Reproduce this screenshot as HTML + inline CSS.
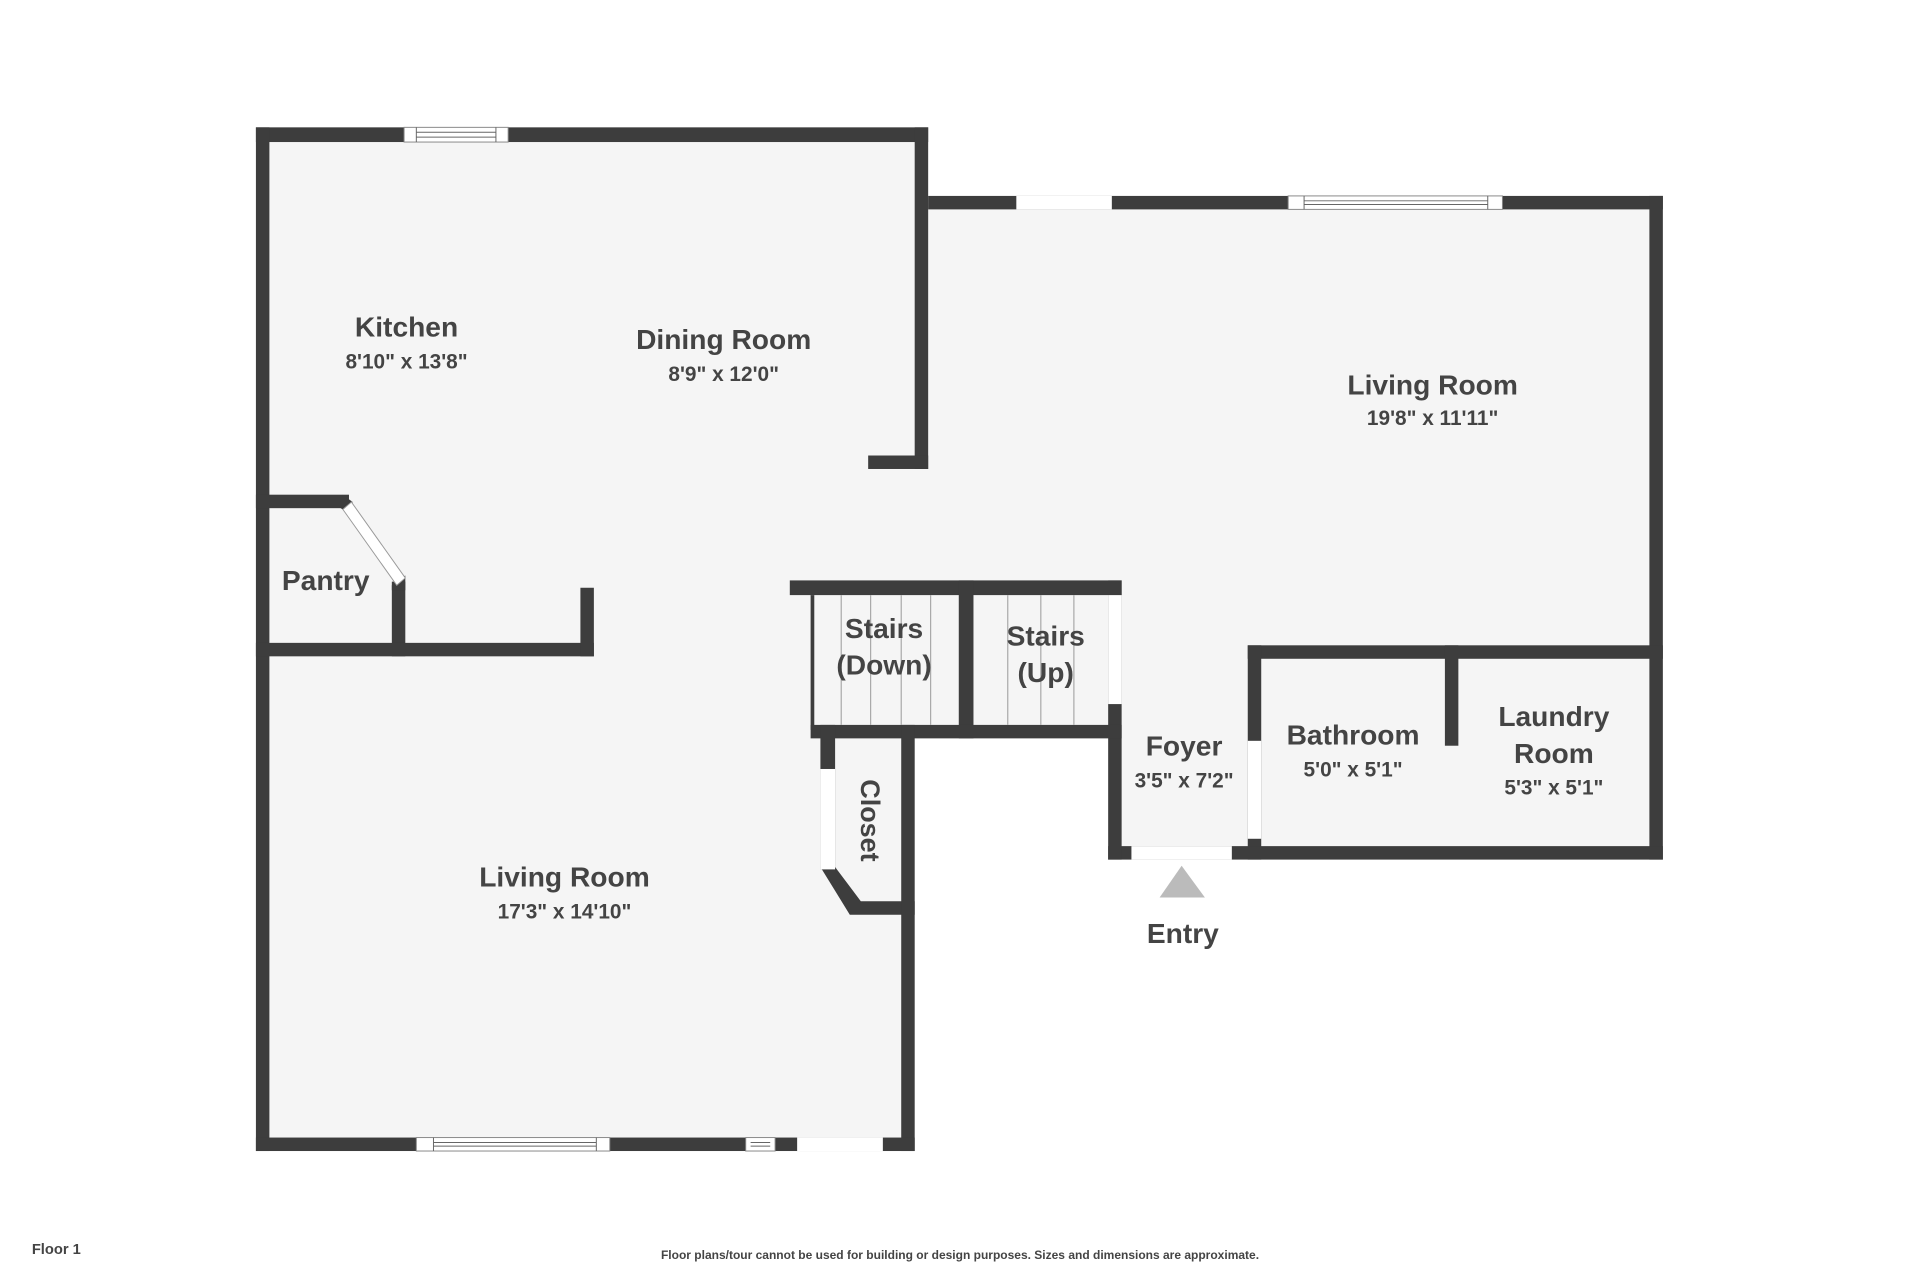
<!DOCTYPE html>
<html><head><meta charset="utf-8"><style>
html,body{margin:0;padding:0;background:#fff;}
svg{display:block;}
text{font-family:"Liberation Sans",sans-serif;font-weight:bold;fill:#444;}
</style></head><body>
<svg width="1920" height="1280" viewBox="0 0 1568 1045.33" preserveAspectRatio="none" xmlns="http://www.w3.org/2000/svg">
<rect width="1568" height="1046" fill="#fff"/>
<polygon points="215,110 752,110 752,166 1352,166 1352,696 910,696 910,597 742,597 742,935 215,935" fill="#f5f5f5"/>
<g fill="#3d3d3d">
<rect x="209" y="104" width="549" height="12"/>
<rect x="209" y="104" width="11" height="836"/>
<rect x="747" y="104" width="11" height="279"/>
<rect x="709" y="372" width="49" height="11"/>
<rect x="758" y="160" width="600" height="11"/>
<rect x="1347" y="160" width="11" height="542"/>
<rect x="1019" y="527" width="339" height="11"/>
<rect x="1019" y="527" width="11" height="175"/>
<rect x="905" y="691" width="453" height="11"/>
<rect x="905" y="474" width="11" height="228"/>
<rect x="645" y="474" width="271" height="12"/>
<rect x="783" y="474" width="12" height="129"/>
<rect x="662" y="592" width="254" height="11"/>
<rect x="662" y="486" width="3" height="110"/>
<rect x="670" y="592" width="12" height="118"/>
<polygon points="670,708 682,708 703,736 747,736 747,747 694,747"/>
<rect x="736" y="592" width="11" height="348"/>
<rect x="209" y="929" width="538" height="11"/>
<rect x="209" y="404" width="76" height="11"/>
<polygon points="280,404 288,410 285,420 277,414"/>
<rect x="320" y="475" width="11" height="61"/>
<polygon points="320,478 331,470 331,482 320,482"/>
<rect x="209" y="525" width="276" height="11"/>
<rect x="474" y="480" width="11" height="56"/>
<rect x="1180" y="527" width="11" height="82"/>
</g>
<polygon points="280,416 287,410 331,472 324,478" fill="#fff" stroke="#999" stroke-width="0.8"/>
<g fill="#fff" stroke="#888" stroke-width="0.8">
<rect x="330" y="104" width="85" height="12"/>
<rect x="830" y="160" width="78" height="11" stroke="none"/>
<rect x="1052" y="160" width="175" height="11"/>
<rect x="340" y="929" width="158" height="11"/>
<rect x="609" y="929" width="24" height="11"/>
<rect x="651" y="929" width="70" height="11" stroke="none"/>
<rect x="924" y="691" width="82" height="11" stroke="none"/>
<rect x="1019" y="605" width="11" height="80" stroke="none"/>
<rect x="905" y="486" width="11" height="89" stroke="none"/>
<rect x="670" y="628" width="12" height="82" stroke="none"/>
</g>
<g stroke="#666" stroke-width="0.8">
<line x1="340" y1="108" x2="405" y2="108"/><line x1="340" y1="112" x2="405" y2="112"/>
<line x1="340" y1="104" x2="340" y2="116"/><line x1="405" y1="104" x2="405" y2="116"/>
<line x1="1065" y1="164" x2="1215" y2="164"/><line x1="1065" y1="167" x2="1215" y2="167"/>
<line x1="1065" y1="160" x2="1065" y2="171"/><line x1="1215" y1="160" x2="1215" y2="171"/>
<line x1="354" y1="933" x2="487" y2="933"/><line x1="354" y1="936" x2="487" y2="936"/>
<line x1="354" y1="929" x2="354" y2="940"/><line x1="487" y1="929" x2="487" y2="940"/>
<line x1="613" y1="933" x2="629" y2="933"/><line x1="613" y1="936" x2="629" y2="936"/>
</g>
<g stroke="#aaa" stroke-width="1">
<line x1="687" y1="486" x2="687" y2="592"/><line x1="711" y1="486" x2="711" y2="592"/>
<line x1="736" y1="486" x2="736" y2="592"/><line x1="760" y1="486" x2="760" y2="592"/>
<line x1="823" y1="486" x2="823" y2="592"/><line x1="850" y1="486" x2="850" y2="592"/>
<line x1="877" y1="486" x2="877" y2="592"/>
</g>
<polygon points="965,707 947,733 984,733" fill="#bbb"/>
<g text-anchor="middle">
<text x="332" y="275" font-size="23">Kitchen</text>
<text x="332" y="301" font-size="17">8'10" x 13'8"</text>
<text x="591" y="285" font-size="23">Dining Room</text>
<text x="591" y="311" font-size="17">8'9" x 12'0"</text>
<text x="1170" y="322" font-size="23">Living Room</text>
<text x="1170" y="347" font-size="17">19'8" x 11'11"</text>
<text x="266" y="482" font-size="23">Pantry</text>
<text x="722" y="521" font-size="23">Stairs</text>
<text x="722" y="551" font-size="23">(Down)</text>
<text x="854" y="527" font-size="23">Stairs</text>
<text x="854" y="557" font-size="23">(Up)</text>
<text x="967" y="617" font-size="23">Foyer</text>
<text x="967" y="643" font-size="17">3'5" x 7'2"</text>
<text x="1105" y="608" font-size="23">Bathroom</text>
<text x="1105" y="634" font-size="17">5'0" x 5'1"</text>
<text x="1269" y="593" font-size="23">Laundry</text>
<text x="1269" y="623" font-size="23">Room</text>
<text x="1269" y="649" font-size="17">5'3" x 5'1"</text>
<text x="461" y="724" font-size="23">Living Room</text>
<text x="461" y="750" font-size="17">17'3" x 14'10"</text>
<text x="966" y="770" font-size="23">Entry</text>
<text transform="translate(703,670) rotate(90)" font-size="22">Closet</text>
<text x="784" y="1028" font-size="9.8">Floor plans/tour cannot be used for building or design purposes. Sizes and dimensions are approximate.</text>
</g>
<text x="26" y="1024" font-size="12">Floor 1</text>
</svg>
</body></html>
